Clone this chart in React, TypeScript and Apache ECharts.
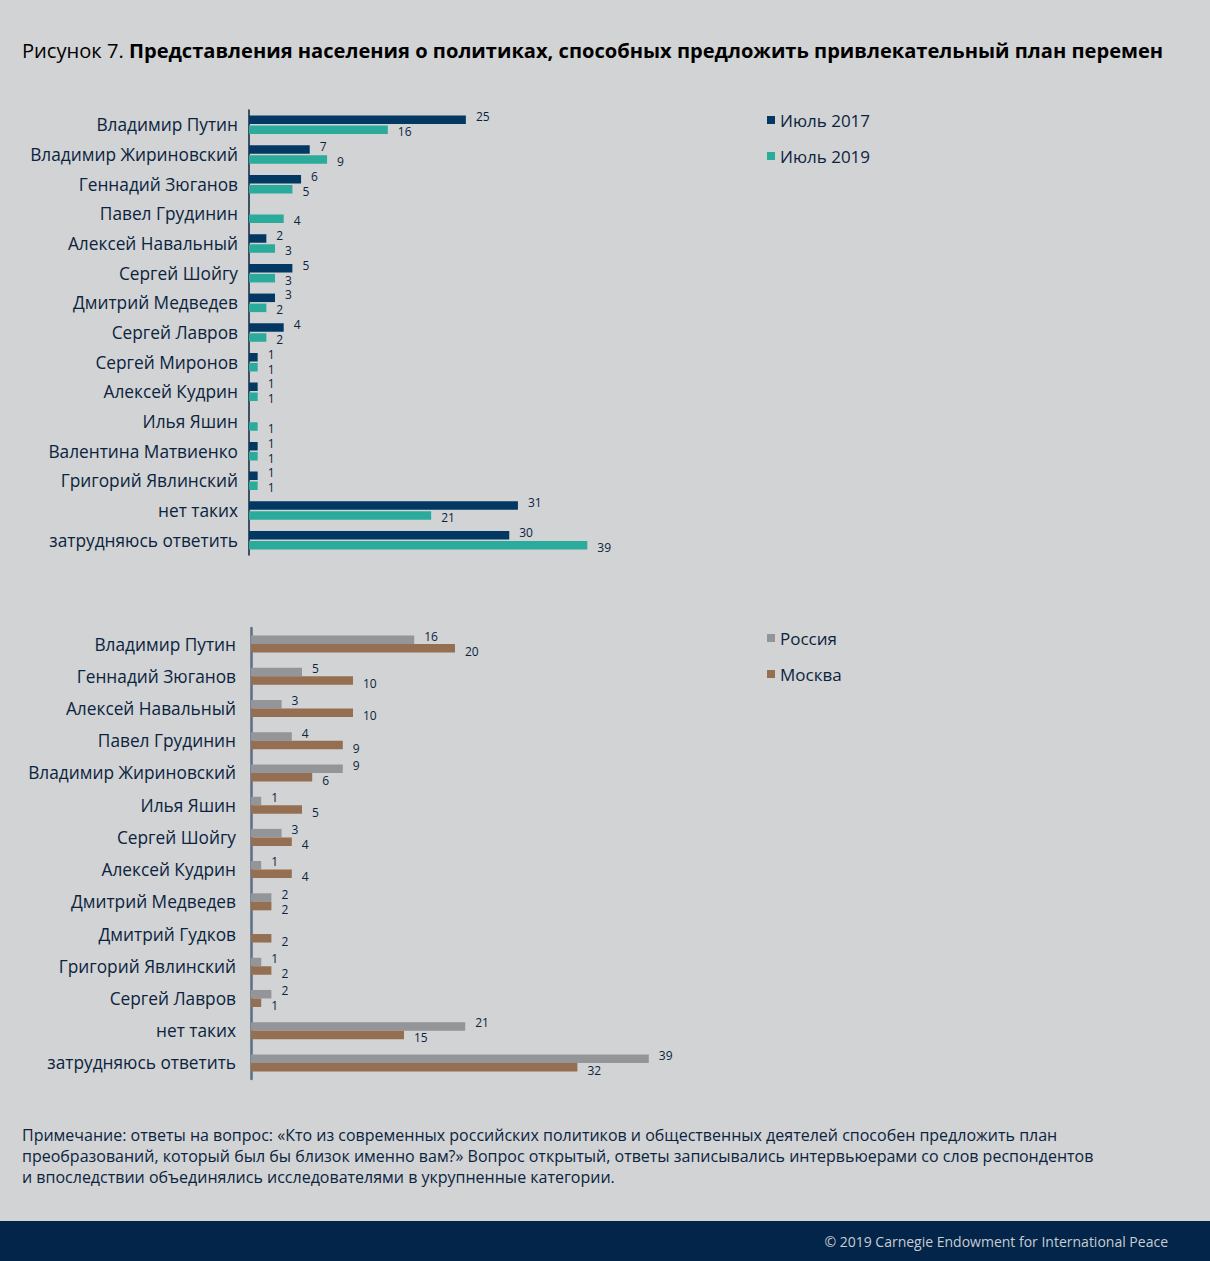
import React, { useEffect, useRef } from "react";
import * as echarts from "echarts";

const topCategories = [
  "Владимир Путин",
  "Владимир Жириновский",
  "Геннадий Зюганов",
  "Павел Грудинин",
  "Алексей Навальный",
  "Сергей Шойгу",
  "Дмитрий Медведев",
  "Сергей Лавров",
  "Сергей Миронов",
  "Алексей Кудрин",
  "Илья Яшин",
  "Валентина Матвиенко",
  "Григорий Явлинский",
  "нет таких",
  "затрудняюсь ответить",
];
const july2017 = [25, 7, 6, null, 2, 5, 3, 4, 1, 1, null, 1, 1, 31, 30];
const july2019 = [16, 9, 5, 4, 3, 3, 2, 2, 1, 1, 1, 1, 1, 21, 39];

const bottomCategories = [
  "Владимир Путин",
  "Геннадий Зюганов",
  "Алексей Навальный",
  "Павел Грудинин",
  "Владимир Жириновский",
  "Илья Яшин",
  "Сергей Шойгу",
  "Алексей Кудрин",
  "Дмитрий Медведев",
  "Дмитрий Гудков",
  "Григорий Явлинский",
  "Сергей Лавров",
  "нет таких",
  "затрудняюсь ответить",
];
const russia = [16, 5, 3, 4, 9, 1, 3, 1, 2, null, 1, 2, 21, 39];
const moscow = [20, 10, 10, 9, 6, 5, 4, 4, 2, 2, 2, 1, 15, 32];

const titleRegular = "Рисунок 7. ";
const titleBold = "Представления населения о политиках, способных предложить привлекательный план перемен";
const noteLines = [
  "Примечание: ответы на вопрос: «Кто из современных российских политиков и общественных деятелей способен предложить план",
  "преобразований, который был бы близок именно вам?» Вопрос открытый, ответы записывались интервьюерами со слов респондентов",
  "и впоследствии объединялись исследователями в укрупненные категории.",
];
const footerText = "© 2019 Carnegie Endowment for International Peace";

const NAVY = "#0c2340";
const FONT = "'Open Sans', 'Noto Sans', sans-serif";

export default function App() {
  const ref = useRef<HTMLDivElement>(null);
  useEffect(() => {
    document.body.style.margin = "0";
    const chart = echarts.init(ref.current!, null, { renderer: "svg" });
    const label = (dy: number) => ({
      show: true,
      position: "right" as const,
      distance: 10,
      offset: [0, dy],
      fontSize: 12,
      lineHeight: 12,
      color: NAVY,
      fontFamily: FONT,
    });
    const catLabel = (margin: number) => ({
      margin,
      fontSize: 17.3,
      color: NAVY,
      fontFamily: FONT,
    });
    const legendText = { fontSize: 17, color: NAVY, lineHeight: 20, fontFamily: FONT };
    chart.setOption({
      animation: false,
      backgroundColor: "#d1d3d4",
      textStyle: { fontFamily: FONT },
      grid: [
        { left: 249, top: 110, width: 347, height: 445 },
        { left: 251, top: 628, width: 408, height: 451 },
      ],
      xAxis: [
        { type: "value", gridIndex: 0, min: 0, max: 40, show: false },
        { type: "value", gridIndex: 1, min: 0, max: 40, show: false },
      ],
      yAxis: [
        {
          type: "category",
          gridIndex: 0,
          data: topCategories,
          inverse: true,
          axisLine: { show: true, lineStyle: { color: NAVY, width: 1.5 } },
          axisTick: { show: false },
          axisLabel: catLabel(11),
        },
        {
          type: "category",
          gridIndex: 1,
          data: bottomCategories,
          inverse: true,
          axisLine: { show: true, lineStyle: { color: "#5a6e84", width: 2.5 } },
          axisTick: { show: false },
          axisLabel: catLabel(15),
        },
      ],
      legend: [
        {
          data: ["Июль 2017", "Июль 2019"],
          orient: "vertical",
          left: 762,
          top: 105,
          icon: "rect",
          itemWidth: 8,
          itemHeight: 8,
          itemGap: 16,
          textStyle: legendText,
        },
        {
          data: ["Россия", "Москва"],
          orient: "vertical",
          left: 762,
          top: 623,
          icon: "rect",
          itemWidth: 8,
          itemHeight: 8,
          itemGap: 16,
          textStyle: legendText,
        },
      ],
      series: [
        {
          name: "Июль 2017",
          type: "bar",
          xAxisIndex: 0,
          yAxisIndex: 0,
          data: july2017,
          barWidth: 8.5,
          barGap: "18%",
          itemStyle: { color: "#033863" },
          label: label(-3),
        },
        {
          name: "Июль 2019",
          type: "bar",
          xAxisIndex: 0,
          yAxisIndex: 0,
          data: july2019,
          barWidth: 8.5,
          itemStyle: { color: "#2aab9b" },
          label: label(2),
        },
        {
          name: "Россия",
          type: "bar",
          xAxisIndex: 1,
          yAxisIndex: 1,
          data: russia,
          barWidth: 8.5,
          barGap: "0%",
          itemStyle: { color: "#939598" },
          label: label(-3.5),
        },
        {
          name: "Москва",
          type: "bar",
          xAxisIndex: 1,
          yAxisIndex: 1,
          data: moscow,
          barWidth: 8.5,
          itemStyle: { color: "#956f52" },
          label: label(3),
        },
      ],
      graphic: [
        {
          type: "text",
          x: 22,
          y: 50,
          style: {
            text: `{a|${titleRegular}}{b|${titleBold}}`,
            verticalAlign: "middle",
            rich: {
              a: { fontSize: 20.1, fontFamily: FONT, color: NAVY, fontWeight: "normal" },
              b: { fontSize: 20.1, fontFamily: FONT, color: NAVY, fontWeight: "bold" },
            },
          },
        },
        ...noteLines.map((line, i) => ({
          type: "text",
          x: 22,
          y: 1135 + i * 21,
          style: {
            text: line,
            fontSize: 16,
            fontFamily: FONT,
            fill: NAVY,
            verticalAlign: "middle",
          },
        })),
        {
          type: "rect",
          x: 0,
          y: 1221,
          shape: { width: 1210, height: 40 },
          style: { fill: "#022549" },
        },
        {
          type: "text",
          x: 1168,
          y: 1241,
          style: {
            text: footerText,
            fontSize: 14,
            fontFamily: FONT,
            fill: "#c9cdd3",
            align: "right",
            verticalAlign: "middle",
          },
        },
      ],
    });
    return () => chart.dispose();
  }, []);
  return <div ref={ref} style={{ width: 1210, height: 1261 }} />;
}
